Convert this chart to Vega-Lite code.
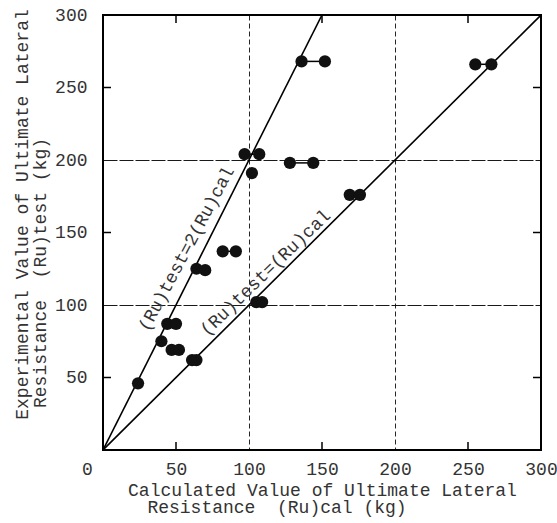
{
  "$schema": "https://vega.github.io/schema/vega-lite/v6.json",
  "width": 438,
  "height": 435,
  "autosize": {"type": "none"},
  "padding": {"left": 103, "top": 15, "right": 16, "bottom": 73},
  "background": "white",
  "config": {
    "view": {"stroke": "#000", "strokeWidth": 2},
    "font": "Liberation Mono"
  },
  "datasets": {
    "refs": [
      {"line": "1:1", "cal": 0, "test": 0},
      {"line": "1:1", "cal": 300, "test": 300},
      {"line": "2:1", "cal": 0, "test": 0},
      {"line": "2:1", "cal": 150, "test": 300}
    ],
    "ticks": [{"t": 50}, {"t": 150}, {"t": 250}],
    "pts": [
      {"pair": "a", "cal": 136, "test": 268},
      {"pair": "a", "cal": 152, "test": 268},
      {"pair": "b", "cal": 255, "test": 266},
      {"pair": "b", "cal": 266, "test": 266},
      {"pair": "c", "cal": 97, "test": 204},
      {"pair": "c", "cal": 107, "test": 204},
      {"pair": "d", "cal": 102, "test": 191},
      {"pair": "e", "cal": 128, "test": 198},
      {"pair": "e", "cal": 144, "test": 198},
      {"pair": "f", "cal": 169, "test": 176},
      {"pair": "f", "cal": 176, "test": 176},
      {"pair": "g", "cal": 82, "test": 137},
      {"pair": "g", "cal": 91, "test": 137},
      {"pair": "h", "cal": 64, "test": 125},
      {"pair": "h", "cal": 70, "test": 124},
      {"pair": "i", "cal": 105, "test": 102},
      {"pair": "i", "cal": 109, "test": 102},
      {"pair": "j", "cal": 44, "test": 87},
      {"pair": "j", "cal": 50, "test": 87},
      {"pair": "k", "cal": 40, "test": 75},
      {"pair": "l", "cal": 47, "test": 69},
      {"pair": "l", "cal": 52, "test": 69},
      {"pair": "m", "cal": 61, "test": 62},
      {"pair": "m", "cal": 64, "test": 62},
      {"pair": "n", "cal": 24, "test": 46}
    ],
    "labels": [
      {"text": "(Ru)test=2(Ru)cal", "cal": 57.5, "test": 138.5, "ang": -62},
      {"text": "(Ru)test=(Ru)cal", "cal": 111.5, "test": 122, "ang": -44}
    ]
  },
  "layer": [
    {
      "data": {"name": "refs"},
      "mark": {"type": "line", "color": "#000", "strokeWidth": 1.6, "clip": true},
      "encoding": {
        "x": {
          "field": "cal", "type": "quantitative",
          "scale": {"domain": [0, 300], "nice": false, "zero": false},
          "axis": {
            "orient": "bottom",
            "values": [0, 50, 100, 150, 200, 250, 300],
            "domain": false,
            "grid": true,
            "gridColor": "#000",
            "gridWidth": 1,
            "gridDash": [5, 3],
            "gridOpacity": {"condition": {"test": "datum.value===100||datum.value===200", "value": 0.85}, "value": 0},
            "ticks": false,
            "labelFont": "Liberation Mono",
            "labelFontSize": 18,
            "labelColor": "#333",
            "labelPadding": 10,
            "labelFlush": false,
            "labelBaseline": "top",
            "labelOffset": {"condition": {"test": "datum.value===0", "value": -16}, "value": 0},
            "title": ["Calculated Value of Ultimate Lateral", "Resistance\u00a0\u00a0(Ru)cal (kg)\u2800\u2800\u2800\u2800\u2800\u2800\u2800"],
            "titleFont": "Liberation Mono",
            "titleFontSize": 18,
            "titleFontWeight": "normal",
            "titleColor": "#333",
            "titleX": 219,
            "titleY": 45,
            "titleAlign": "center",
            "titleBaseline": "alphabetic",
            "titleLineHeight": 17
          }
        },
        "y": {
          "field": "test", "type": "quantitative",
          "scale": {"domain": [0, 300], "nice": false, "zero": false},
          "axis": {
            "orient": "left",
            "values": [0, 50, 100, 150, 200, 250, 300],
            "domain": false,
            "grid": true,
            "gridColor": "#000",
            "gridWidth": 1.2,
            "gridDash": [14, 2],
            "gridOpacity": {"condition": {"test": "datum.value===100||datum.value===200", "value": 0.9}, "value": 0},
            "ticks": false,
            "labelFont": "Liberation Mono",
            "labelFontSize": 18,
            "labelColor": "#333",
            "labelPadding": 16,
            "labelFlush": false,
            "labelExpr": "datum.value===0 ? '' : datum.label",
            "title": ["Experimental Value of Ultimate Lateral", "Resistance\u00a0\u00a0(Ru)test (kg)\u2800\u2800\u2800\u2800\u2800\u2800\u2800\u2800\u2800"],
            "titleFont": "Liberation Mono",
            "titleFontSize": 18,
            "titleFontWeight": "normal",
            "titleColor": "#333",
            "titleAngle": -90,
            "titleX": -76,
            "titleY": 199,
            "titleAlign": "center",
            "titleBaseline": "alphabetic",
            "titleLineHeight": 18
          }
        },
        "detail": {"field": "line"}
      }
    },
    {
      "data": {"name": "ticks"},
      "mark": {"type": "tick", "orient": "vertical", "color": "#000", "size": 16, "thickness": 1.5, "opacity": 1, "clip": true},
      "encoding": {
        "x": {"field": "t", "type": "quantitative"},
        "y": {"datum": 0}
      }
    },
    {
      "data": {"name": "ticks"},
      "mark": {"type": "tick", "orient": "vertical", "color": "#000", "size": 16, "thickness": 1.5, "opacity": 1, "clip": true},
      "encoding": {
        "x": {"field": "t", "type": "quantitative"},
        "y": {"datum": 300}
      }
    },
    {
      "data": {"name": "ticks"},
      "mark": {"type": "tick", "orient": "horizontal", "color": "#000", "size": 16, "thickness": 1.5, "opacity": 1, "clip": true},
      "encoding": {
        "y": {"field": "t", "type": "quantitative"},
        "x": {"datum": 0}
      }
    },
    {
      "data": {"name": "ticks"},
      "mark": {"type": "tick", "orient": "horizontal", "color": "#000", "size": 16, "thickness": 1.5, "opacity": 1, "clip": true},
      "encoding": {
        "y": {"field": "t", "type": "quantitative"},
        "x": {"datum": 300}
      }
    },
    {
      "data": {"name": "pts"},
      "mark": {"type": "line", "color": "#000", "strokeWidth": 1.5},
      "encoding": {
        "x": {"field": "cal", "type": "quantitative"},
        "y": {"field": "test", "type": "quantitative"},
        "detail": {"field": "pair"}
      }
    },
    {
      "data": {"name": "pts"},
      "mark": {"type": "circle", "color": "#111", "opacity": 1, "size": 150},
      "encoding": {
        "x": {"field": "cal", "type": "quantitative"},
        "y": {"field": "test", "type": "quantitative"}
      }
    },
    {
      "data": {"name": "labels"},
      "mark": {"type": "text", "font": "Liberation Mono", "fontSize": 18, "color": "#333", "align": "center", "baseline": "middle"},
      "encoding": {
        "x": {"field": "cal", "type": "quantitative"},
        "y": {"field": "test", "type": "quantitative"},
        "text": {"field": "text"},
        "angle": {"field": "ang", "type": "quantitative", "scale": null}
      }
    }
  ]
}
